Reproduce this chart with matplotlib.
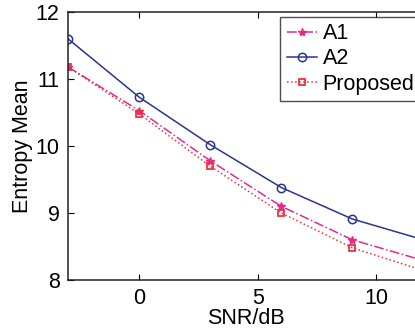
import matplotlib
matplotlib.use("Agg")
import matplotlib.pyplot as plt

plt.rcParams['font.family'] = ['Liberation Sans', 'DejaVu Sans']

# valores
snr = [-3, 0, 3, 6, 9, 12]
a1 = [11.18, 10.53, 9.78, 9.10, 8.60, 8.29]
a2 = [11.60, 10.73, 10.02, 9.38, 8.91, 8.60]
propuesto = [11.18, 10.48, 9.70, 9.00, 8.48, 8.14]

fig = plt.figure(figsize=(4.15, 3.3), dpi=100)
ax = fig.add_axes([0.1639, 0.1515, 1.028, 0.812])

ax.plot(snr, a1, '-.', color='#e8288c', marker='*', markersize=6, linewidth=1.1, label='A1')
ax.plot(snr, a2, '-', color='#2a3590', marker='o', markersize=6, markerfacecolor='none',
        markeredgewidth=1.1, linewidth=1.1, label='A2')
ax.plot(snr, propuesto, ':', color='#f0303c', marker='s', markersize=5, markerfacecolor='none',
        markeredgewidth=1.3, linewidth=1.1, label='Proposed')

ax.set_xlim(-3, 15)
ax.set_ylim(8, 12)
ax.set_xticks([0, 5, 10, 15])
ax.set_xticklabels(['0', '5', '10', ''])
ax.set_yticks([8, 9, 10, 11, 12])
ax.tick_params(direction='in', top=True, right=True, labelsize=15.5, length=4, pad=6)
for s in ax.spines.values():
    s.set_linewidth(1.1)
    s.set_color('#222222')

ax.set_xlabel('SNR/dB', fontsize=15.5)
ax.xaxis.set_label_coords(0.417, -0.103)
ax.set_ylabel('Entropy Mean', fontsize=15.5, labelpad=2)

leg = ax.legend(loc='upper left', bbox_to_anchor=(0.498, 0.983), fontsize=15.5, frameon=True,
                fancybox=False, edgecolor='#222222', handlelength=1.4, handletextpad=0.25,
                borderpad=0.3, labelspacing=0.2, borderaxespad=0)
leg.get_frame().set_linewidth(1.0)

fig.savefig('out.png', dpi=100)
